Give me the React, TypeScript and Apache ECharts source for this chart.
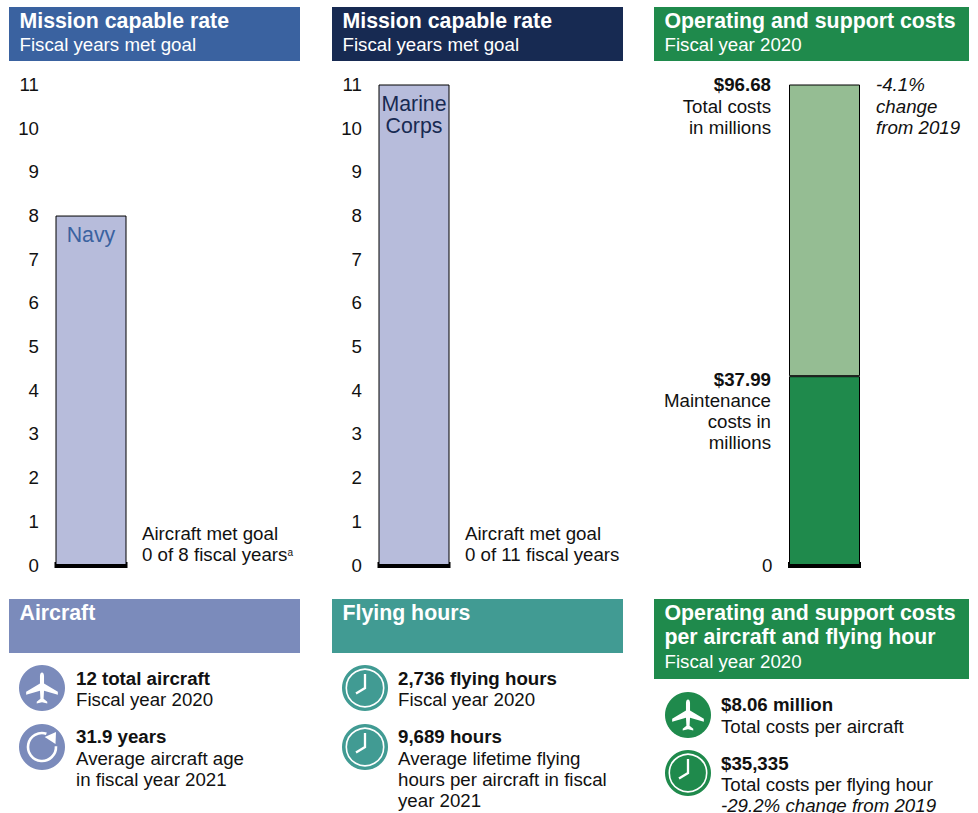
import React, { useEffect, useRef } from "react";
import * as echarts from "echarts";

const FONT = '"Liberation Sans", Arial, sans-serif';
const yTicks = [0, 11];
const navyYears = [8];
const marineYears = [11];
const maintenanceCosts = [37.99];
const otherCosts = [58.69];
const totalCosts = 96.68;

const BLUE = "#3A62A0";
const NAVY = "#172A52";
const GREEN = "#1F8A4C";
const PERI = "#7B8BBB";
const TEAL = "#419B93";
const BAR = "#B7BCDB";
const LGREEN = "#95BD93";

const BODY = 18.7;
const TITLE = 21.3;

const planeD =
  "M20 2 C21.5 2 22.3 4 22.3 6 L22.3 14.5 L38 24 L38 27.5 L22.3 23 L21.8 32 L26 35.3 L26 37.5 L20 36 L14 37.5 L14 35.3 L18.2 32 L17.7 23 L2 27.5 L2 24 L17.7 14.5 L17.7 6 C17.7 4 18.5 2 20 2 Z";
echarts.graphic.registerShape("plane", echarts.graphic.extendPath(planeD, {}) as any);

function txt(x: number, y: number, text: string, o: any = {}) {
  const size = o.size || BODY;
  return {
    type: "text",
    x,
    y: size === BODY ? y - 1 : y,
    silent: true,
    style: {
      text,
      fill: o.fill || "#111",
      fontFamily: FONT,
      fontSize: size,
      fontWeight: o.bold ? "bold" : "normal",
      fontStyle: o.italic ? "italic" : "normal",
      align: o.align || "left",
      verticalAlign: "middle",
    },
  };
}
function rect(x: number, y: number, w: number, h: number, fill: string) {
  return { type: "rect", silent: true, shape: { x, y, width: w, height: h }, style: { fill } };
}
function header(x: number, y: number, w: number, h: number, fill: string, titles: string[], sub?: string) {
  const out: any[] = [rect(x, y, w, h, fill)];
  titles.forEach((t, i) => out.push(txt(x + 10.5, y + 14 + i * 24, t, { fill: "#fff", bold: true, size: TITLE })));
  if (sub) out.push(txt(x + 10.5, y + 14 + titles.length * 24 - (titles.length === 1 ? 0 : -1), sub, { fill: "#fff", size: BODY }));
  return out;
}
function plane(cx: number, cy: number, fill: string) {
  return [
    { type: "circle", silent: true, shape: { cx, cy, r: 23 }, style: { fill } },
    {
      type: "plane",
      silent: true,
      x: cx - 20 * 0.88,
      y: cy - 19.75 * 0.88,
      scaleX: 0.88,
      scaleY: 0.88,
      style: { fill: "#fff" },
    },
  ];
}
function clock(cx: number, cy: number, fill: string) {
  return [
    { type: "circle", silent: true, shape: { cx, cy, r: 23 }, style: { fill } },
    { type: "circle", silent: true, shape: { cx, cy, r: 18.7 }, style: { stroke: "#fff", lineWidth: 1.6, fill: "none" } },
    {
      type: "polyline",
      silent: true,
      shape: { points: [[cx, cy - 14], [cx, cy], [cx - 9, cy + 5.5]] },
      style: { stroke: "#fff", lineWidth: 2.3, fill: "none" },
    },
  ];
}
function refresh(cx: number, cy: number, fill: string) {
  return [
    { type: "circle", silent: true, shape: { cx, cy, r: 23 }, style: { fill } },
    {
      type: "arc",
      silent: true,
      shape: { cx, cy, r: 14, startAngle: -0.05, endAngle: -1.25, clockwise: true },
      style: { stroke: "#fff", lineWidth: 2.6, fill: "none" },
    },
    {
      type: "polygon",
      silent: true,
      shape: { points: [[cx + 2.7, cy - 10], [cx + 14, cy - 15], [cx + 13.5, cy - 3]] },
      style: { fill: "#fff" },
    },
  ];
}
function barLabel(lines: string, color: string) {
  return {
    show: true,
    position: "insideTop" as const,
    distance: 8,
    formatter: lines,
    color,
    fontFamily: FONT,
    fontSize: TITLE,
    lineHeight: 22,
  };
}

export default function App() {
  const ref = useRef<HTMLDivElement>(null);
  useEffect(() => {
    document.body.style.margin = "0";
    document.body.style.overflow = "hidden";
    const chart = echarts.init(ref.current!, undefined, { renderer: "svg" });
    const grids = [54.5, 377.5, 788].map((left) => ({ left, top: 84.5, width: 73, height: 480.5 }));
    const yBase = {
      type: "value" as const,
      min: yTicks[0],
      max: yTicks[1],
      interval: 1,
      splitLine: { show: false },
      axisTick: { show: false },
      axisLine: { show: false },
      axisLabel: { color: "#111", fontFamily: FONT, fontSize: BODY, margin: 15.5 },
    };
    const xBase = {
      type: "category" as const,
      data: ["FY"],
      axisTick: { show: false },
      axisLabel: { show: false },
      axisLine: { show: true, lineStyle: { color: "#000", width: 6, cap: "butt" } },
    };
    const barStyle = { borderColor: "#000", borderWidth: 1 };
    const graphic: any[] = [
      ...header(9, 7, 291, 54, BLUE, ["Mission capable rate"], "Fiscal years met goal"),
      ...header(332, 7, 291, 54, NAVY, ["Mission capable rate"], "Fiscal years met goal"),
      ...header(654, 7, 315, 54, GREEN, ["Operating and support costs"], "Fiscal year 2020"),
      ...header(9, 599, 291, 54, PERI, ["Aircraft"]),
      ...header(332, 599, 291, 54, TEAL, ["Flying hours"]),
      ...header(654, 599, 315, 80, GREEN, ["Operating and support costs", "per aircraft and flying hour"], "Fiscal year 2020"),
      txt(142, 534, "Aircraft met goal"),
      txt(142, 555, "0 of 8 fiscal years"),
      txt(287.5, 552, "a", { size: 10 }),
      txt(465, 534, "Aircraft met goal"),
      txt(465, 555, "0 of 11 fiscal years"),
      txt(771, 85, "$96.68", { bold: true, align: "right" }),
      txt(771, 107, "Total costs", { align: "right" }),
      txt(771, 128, "in millions", { align: "right" }),
      txt(771, 380, "$37.99", { bold: true, align: "right" }),
      txt(771, 401, "Maintenance", { align: "right" }),
      txt(771, 422, "costs in", { align: "right" }),
      txt(771, 443, "millions", { align: "right" }),
      txt(876, 85, "-4.1%", { italic: true }),
      txt(876, 107, "change", { italic: true }),
      txt(876, 128, "from 2019", { italic: true }),
      ...plane(42, 688, PERI),
      ...refresh(42, 747, PERI),
      txt(76, 679, "12 total aircraft", { bold: true }),
      txt(76, 700, "Fiscal year 2020"),
      txt(76, 737, "31.9 years", { bold: true }),
      txt(76, 759, "Average aircraft age"),
      txt(76, 780, "in fiscal year 2021"),
      ...clock(365, 688, TEAL),
      ...clock(365, 747, TEAL),
      txt(398, 679, "2,736 flying hours", { bold: true }),
      txt(398, 700, "Fiscal year 2020"),
      txt(398, 737, "9,689 hours", { bold: true }),
      txt(398, 759, "Average lifetime flying"),
      txt(398, 780, "hours per aircraft in fiscal"),
      txt(398, 801, "year 2021"),
      ...plane(688, 715, GREEN),
      ...clock(688, 773, GREEN),
      txt(721, 705, "$8.06 million", { bold: true }),
      txt(721, 727, "Total costs per aircraft"),
      txt(721, 764, "$35,335", { bold: true }),
      txt(721, 785, "Total costs per flying hour"),
      txt(721, 806, "-29.2% change from 2019", { italic: true }),
    ];
    chart.setOption({
      animation: false,
      grid: grids,
      xAxis: [0, 1, 2].map((gridIndex) => ({ ...xBase, gridIndex })),
      yAxis: [
        { ...yBase, gridIndex: 0 },
        { ...yBase, gridIndex: 1 },
        {
          ...yBase,
          gridIndex: 2,
          max: totalCosts,
          interval: totalCosts,
          axisLabel: { ...yBase.axisLabel, formatter: (v: number) => (v === 0 ? "0" : "") },
        },
      ],
      graphic,
      series: [
        {
          type: "bar",
          xAxisIndex: 0,
          yAxisIndex: 0,
          data: navyYears,
          barWidth: 71,
          itemStyle: { color: BAR, ...barStyle },
          label: barLabel("Navy", BLUE),
        },
        {
          type: "bar",
          xAxisIndex: 1,
          yAxisIndex: 1,
          data: marineYears,
          barWidth: 71,
          itemStyle: { color: BAR, ...barStyle },
          label: barLabel("Marine\nCorps", NAVY),
        },
        {
          type: "bar",
          stack: "costs",
          xAxisIndex: 2,
          yAxisIndex: 2,
          data: maintenanceCosts,
          barWidth: 71,
          itemStyle: { color: GREEN, ...barStyle },
        },
        {
          type: "bar",
          stack: "costs",
          xAxisIndex: 2,
          yAxisIndex: 2,
          data: otherCosts,
          barWidth: 71,
          itemStyle: { color: LGREEN, ...barStyle },
        },
      ],
    });
    return () => chart.dispose();
  }, []);
  return <div ref={ref} style={{ width: 978, height: 813 }} />;
}
